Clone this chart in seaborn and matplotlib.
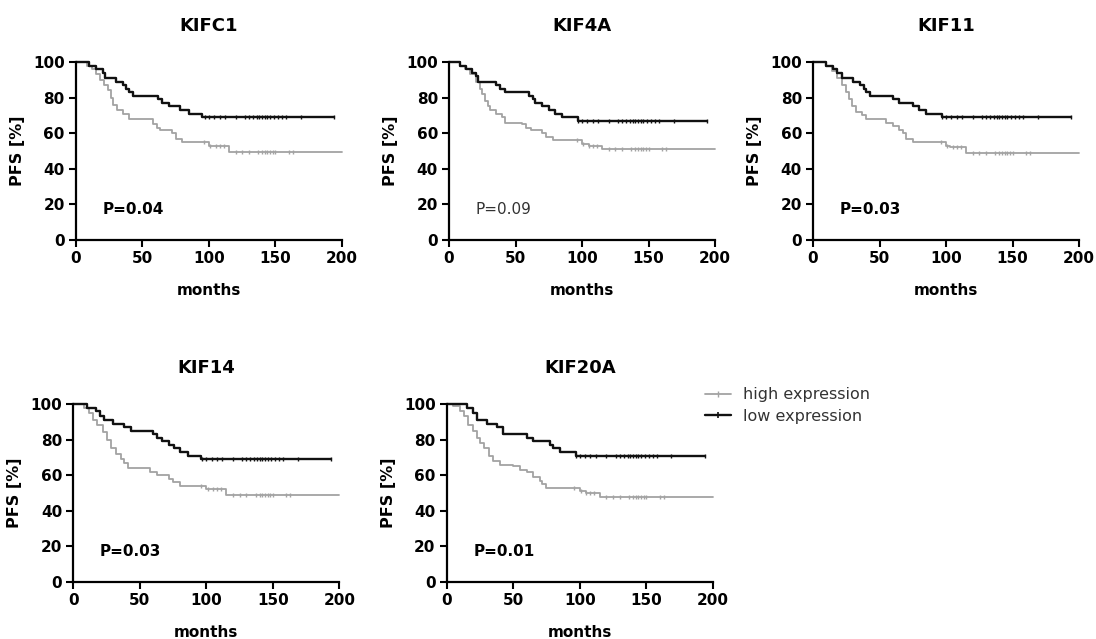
import numpy as np
import pandas as pd
import matplotlib
matplotlib.use("Agg")
import matplotlib.pyplot as plt
from matplotlib.lines import Line2D
import seaborn as sns

sns.set_style("ticks")
plt.rcParams['font.family'] = ['DejaVu Sans']
plt.rcParams['text.color'] = 'black'
plt.rcParams['axes.labelcolor'] = 'black'
plt.rcParams['xtick.color'] = 'black'
plt.rcParams['ytick.color'] = 'black'
plt.rcParams['axes.edgecolor'] = 'black'

# Kaplan-Meier step data (months, PFS %)
genes = ["KIFC1", "KIF4A", "KIF11", "KIF14", "KIF20A"]
p_values = ["P=0.04", "P=0.09", "P=0.03", "P=0.03", "P=0.01"]

kifc1_low_t = [10, 15, 20, 22, 30, 35, 38, 40, 43, 62, 65, 70, 78, 85, 95]
kifc1_low_s = [98, 96, 94, 91, 89, 87, 85, 83, 81, 79, 77, 75, 73, 71, 69]
kifc1_high_t = [8, 12, 15, 18, 21, 24, 26, 28, 31, 35, 40, 58, 61, 63, 72, 75, 80, 100, 115]
kifc1_high_s = [98, 96, 93, 90, 87, 84, 80, 76, 73, 71, 68, 65, 63, 62, 60, 57, 55, 53, 49.5]

kif4a_low_t = [8, 13, 17, 20, 22, 35, 38, 42, 60, 63, 65, 70, 75, 80, 85, 97]
kif4a_low_s = [98, 96, 94, 92, 89, 87, 85, 83, 81, 79, 77, 75, 73, 71, 69, 67]
kif4a_high_t = [8, 12, 16, 20, 23, 25, 27, 29, 31, 35, 40, 42, 55, 58, 62, 70, 73, 78, 100, 105, 115]
kif4a_high_s = [98, 96, 93, 89, 85, 82, 78, 75, 73, 71, 69, 66, 65, 63, 62, 60, 58, 56, 54, 53, 51]

kif11_low_t = [10, 15, 18, 22, 30, 35, 38, 40, 43, 60, 65, 75, 80, 85, 97]
kif11_low_s = [98, 96, 94, 91, 89, 87, 85, 83, 81, 79, 77, 75, 73, 71, 69]
kif11_high_t = [10, 14, 18, 22, 25, 27, 29, 32, 37, 40, 55, 60, 65, 68, 70, 75, 100, 103, 115]
kif11_high_s = [98, 95, 91, 87, 83, 79, 75, 72, 70, 68, 66, 64, 62, 60, 57, 55, 53, 52, 49]

kif14_low_t = [10, 17, 20, 23, 30, 38, 43, 60, 63, 67, 72, 76, 80, 86, 96]
kif14_low_s = [98, 96, 93, 91, 89, 87, 85, 83, 81, 79, 77, 75, 73, 71, 69]
kif14_high_t = [8, 12, 15, 18, 22, 25, 28, 32, 36, 38, 41, 58, 63, 72, 75, 80, 100, 115]
kif14_high_s = [98, 95, 91, 88, 84, 80, 75, 72, 69, 67, 64, 62, 60, 58, 56, 54, 52, 49]

kif20a_low_t = [15, 20, 23, 30, 38, 42, 60, 65, 78, 80, 85, 97]
kif20a_low_s = [98, 95, 91, 89, 87, 83, 81, 79, 77, 75, 73, 71]
kif20a_high_t = [5, 10, 13, 16, 20, 23, 25, 28, 32, 35, 40, 50, 55, 60, 65, 70, 72, 75, 100, 105, 115]
kif20a_high_s = [99, 96, 93, 88, 85, 81, 78, 75, 71, 68, 66, 65, 63, 62, 59, 57, 55, 53, 51, 50, 48]

# censored observations (months)
censor_low = [97, 100, 104, 108, 112, 120, 127, 130, 133, 136, 138, 140, 142, 144, 146, 149, 152, 155, 158, 169, 194]
censor_high = [96, 101, 105, 108, 111, 120, 125, 130, 137, 140, 142, 144, 146, 148, 150, 160, 163]
end_low = 194
end_high = 200

low_t = [kifc1_low_t, kif4a_low_t, kif11_low_t, kif14_low_t, kif20a_low_t]
low_s = [kifc1_low_s, kif4a_low_s, kif11_low_s, kif14_low_s, kif20a_low_s]
high_t = [kifc1_high_t, kif4a_high_t, kif11_high_t, kif14_high_t, kif20a_high_t]
high_s = [kifc1_high_s, kif4a_high_s, kif11_high_s, kif14_high_s, kif20a_high_s]

HIGH_COL = "#a3a3a3"
LOW_COL = "#111111"

fig = plt.figure(figsize=(10.96, 6.39), dpi=100)

# axes positions in figure fraction (left, bottom)
positions = [(0.0693, 0.6244), (0.4097, 0.6244), (0.7418, 0.6244),
             (0.0669, 0.0892), (0.4076, 0.0892)]
w, h = 0.2427, 0.2786


def step_df(times, surv, end):
    t = [0] + list(times) + [end]
    s = [100] + list(surv) + [surv[-1]]
    return pd.DataFrame({"months": t, "PFS": s})


def surv_at(times, surv, x):
    t = np.array([0] + list(times))
    s = np.array([100] + list(surv))
    idx = np.searchsorted(t, x, side="right") - 1
    return s[idx]


for i, gene in enumerate(genes):
    ax = fig.add_axes([positions[i][0], positions[i][1], w, h])

    for times, surv, end, cens, col, lw in [
        (high_t[i], high_s[i], end_high, censor_high, HIGH_COL, 1.3),
        (low_t[i], low_s[i], end_low, censor_low, LOW_COL, 1.7),
    ]:
        df = step_df(times, surv, end)
        sns.lineplot(data=df, x="months", y="PFS", drawstyle="steps-post",
                     estimator=None, sort=False, color=col, lw=lw,
                     clip_on=False, ax=ax)
        cy = [surv_at(times, surv, c) for c in cens]
        ax.plot(cens, cy, ls="none", marker="|", ms=3, mew=1.0,
                color=col, clip_on=False)

    ax.set_xlim(0, 200)
    ax.set_ylim(0, 100)
    ax.set_xticks([0, 50, 100, 150, 200])
    ax.set_yticks([0, 20, 40, 60, 80, 100])
    ax.tick_params(axis="both", length=5, width=1.5, labelsize=11, pad=3)
    for lab in ax.get_xticklabels() + ax.get_yticklabels():
        lab.set_fontweight("bold")
    sns.despine(ax=ax)
    ax.spines["left"].set_linewidth(1.6)
    ax.spines["bottom"].set_linewidth(1.6)

    ax.set_title(gene, fontsize=13, fontweight="bold", pad=22)
    ax.set_xlabel("months", fontsize=11, fontweight="bold", labelpad=12)
    ax.set_ylabel("PFS [%]", fontsize=11.5, fontweight="bold", labelpad=6)
    ax.text(20, 17, p_values[i], fontsize=11,
            fontweight="normal" if gene == "KIF4A" else "bold",
            color="#333333" if gene == "KIF4A" else "black",
            va="center", ha="left")

handles = [
    Line2D([0], [0], color=HIGH_COL, lw=1.3, marker="|", ms=4, mew=1.0),
    Line2D([0], [0], color=LOW_COL, lw=1.7, marker="|", ms=4, mew=1.2),
]
fig.legend(handles, ["high expression", "low expression"],
           loc="center left", bbox_to_anchor=(0.636, 0.3654),
           frameon=False, fontsize=11.5, handlelength=1.6,
           handletextpad=0.8, labelspacing=0.4, borderpad=0,
           labelcolor="#333333")

fig.savefig("out.png", dpi=100)
